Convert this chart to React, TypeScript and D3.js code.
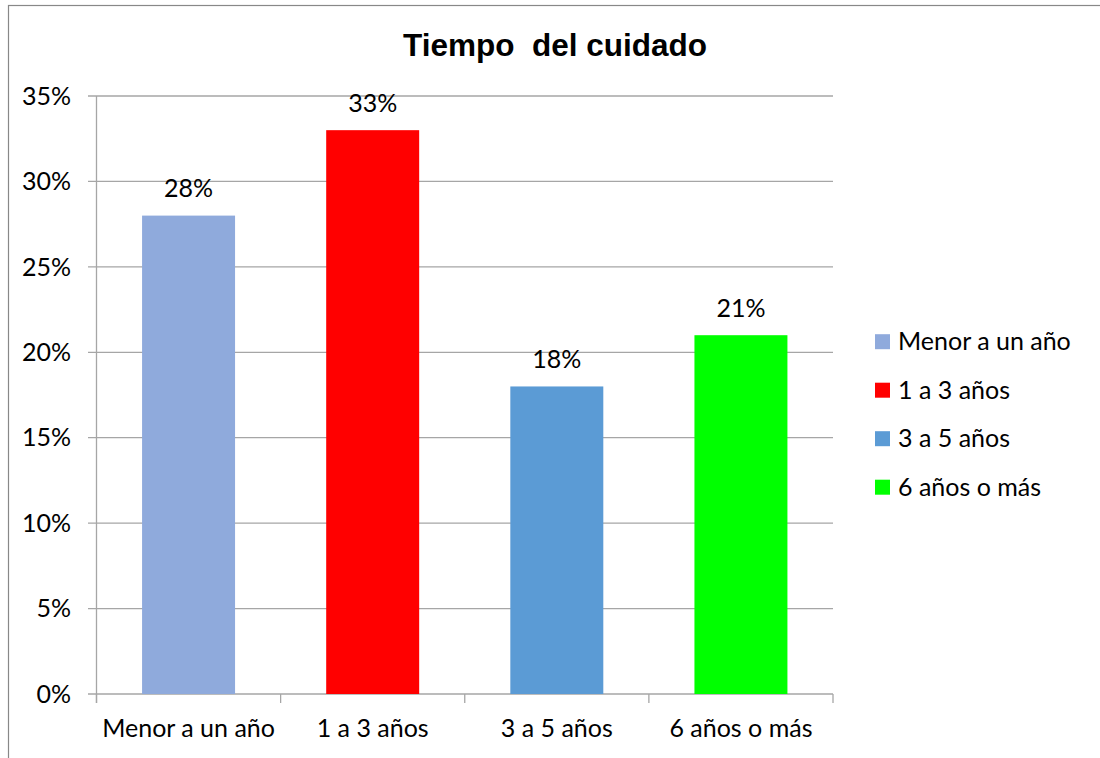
import React from "react";
import * as d3 from "d3";

const categories = ["Menor a un año", "1 a 3 años", "3 a 5 años", "6 años o más"];
const values = [0.28, 0.33, 0.18, 0.21];
const colors = ["#8FAADC", "#FF0000", "#5B9BD5", "#00FF00"];
const yTicks = [0, 0.05, 0.1, 0.15, 0.2, 0.25, 0.3, 0.35];
const title = "Tiempo  del cuidado";

const W = 1100;
const H = 758;
const plot = { left: 96.5, right: 833, top: 96, bottom: 694 };
const font = "Lato, 'Open Sans', sans-serif";
const fs = 25;
const gridColor = "#A6A6A6";

export default function App() {
  const x = d3.scaleBand<string>().domain(categories).range([plot.left, plot.right]).padding(0);
  const y = d3.scaleLinear().domain([0, 0.35]).range([plot.bottom, plot.top]);
  const pct = d3.format(".0%");
  const barW = x.bandwidth() * 0.505;
  const boundaries = [plot.left, ...categories.map((c) => (x(c) as number) + x.bandwidth())];

  return (
    <svg
      width={W}
      height={H}
      style={{ position: "absolute", left: 0, top: 0, background: "#fff" }}
    >
      <rect x={0} y={0} width={W} height={H} fill="#fff" />
      {/* chart frame */}
      <rect x={8.5} y={5.5} width={1200} height={1000} fill="none" stroke="#888" strokeWidth={1.2} />

      <text
        x={555}
        y={56}
        textAnchor="middle"
        fontFamily="'Liberation Sans', Arial, sans-serif"
        fontWeight="bold"
        fontSize={31.5}
        style={{ whiteSpace: "pre" }}
        fill="#000"
      >
        {title}
      </text>

      {/* gridlines and y ticks */}
      {yTicks.map((t) => (
        <g key={t}>
          <line x1={plot.left - 8.5} x2={plot.right} y1={y(t)} y2={y(t)} stroke={gridColor} strokeWidth={1.3} />
          <text
            x={71}
            y={y(t)}
            dy="0.35em"
            textAnchor="end"
            fontFamily={font}
            fontSize={fs}
            fill="#000"
          >
            {pct(t)}
          </text>
        </g>
      ))}

      {/* y axis line */}
      <line x1={plot.left} x2={plot.left} y1={plot.top} y2={plot.bottom + 9} stroke={gridColor} strokeWidth={1.3} />
      {/* x tick marks */}
      {boundaries.map((b, i) => (
        <line key={i} x1={b} x2={b} y1={plot.bottom} y2={plot.bottom + 9} stroke={gridColor} strokeWidth={1.3} />
      ))}

      {/* bars */}
      {categories.map((c, i) => {
        const cx = (x(c) as number) + x.bandwidth() / 2;
        return (
          <g key={c}>
            <rect
              x={cx - barW / 2}
              y={y(values[i])}
              width={barW}
              height={y(0) - y(values[i])}
              fill={colors[i]}
            />
            <text
              x={cx}
              y={y(values[i]) - 18.5}
              textAnchor="middle"
              fontFamily={font}
              fontSize={fs}
              fill="#000"
            >
              {pct(values[i])}
            </text>
            <text x={cx} y={737} textAnchor="middle" fontFamily={font} fontSize={fs} fill="#000">
              {c}
            </text>
          </g>
        );
      })}

      {/* legend */}
      {categories.map((c, i) => {
        const cy = 341.7 + i * 48.5;
        return (
          <g key={"lg" + c}>
            <rect x={875} y={cy - 7.5} width={15} height={15} fill={colors[i]} />
            <text x={898} y={cy} dy="0.35em" fontFamily={font} fontSize={fs} fill="#000">
              {c}
            </text>
          </g>
        );
      })}
    </svg>
  );
}
